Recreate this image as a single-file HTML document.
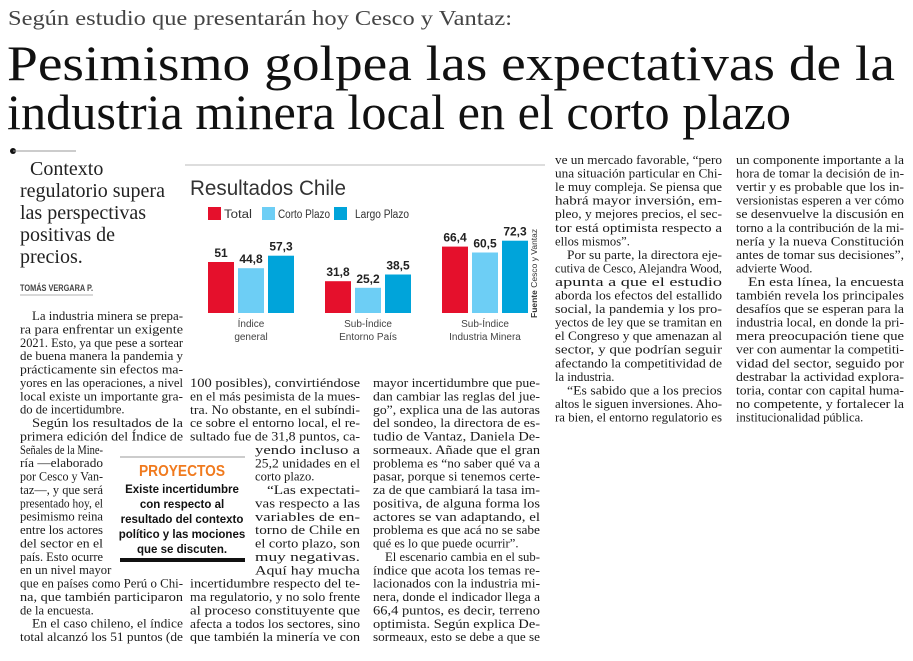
<!DOCTYPE html>
<html><head><meta charset="utf-8">
<style>
html,body{margin:0;padding:0;background:#fff;}
svg{display:block;}
.body{font-family:"Liberation Serif",serif;font-size:12.6px;fill:#1a1a1a;}
.sans{font-family:"Liberation Sans",sans-serif;}
</style></head>
<body>
<svg id="page" width="913" height="661" viewBox="0 0 913 661" xmlns="http://www.w3.org/2000/svg">
<text x="8" y="25" font-family="Liberation Serif,serif" font-size="21" fill="#444" textLength="504" lengthAdjust="spacingAndGlyphs">Según estudio que presentarán hoy Cesco y Vantaz:</text>
<text x="7" y="80" font-family="Liberation Serif,serif" font-size="50" fill="#111" textLength="888" lengthAdjust="spacingAndGlyphs">Pesimismo golpea las expectativas de la</text>
<text x="7" y="129" font-family="Liberation Serif,serif" font-size="50" fill="#111" textLength="784" lengthAdjust="spacingAndGlyphs">industria minera local en el corto plazo</text>
<circle cx="13" cy="151" r="3" fill="#111"/>
<line x1="13" y1="151" x2="76" y2="151" stroke="#999" stroke-width="1"/>
<g font-family="Liberation Serif,serif" font-size="20" fill="#222">
<text x="30" y="175">Contexto</text>
<text x="20" y="197">regulatorio supera</text>
<text x="20" y="219">las perspectivas</text>
<text x="20" y="241">positivas de</text>
<text x="20" y="263">precios.</text>
</g>
<text x="20" y="291" class="sans" font-size="9" font-weight="bold" fill="#444" textLength="73" lengthAdjust="spacingAndGlyphs">TOMÁS VERGARA P.</text>
<line x1="20" y1="295" x2="93" y2="295" stroke="#999" stroke-width="0.8"/>

<g id="cols"></g>

<g>
<line x1="120" y1="457" x2="245" y2="457" stroke="#999" stroke-width="1"/>
<text x="182" y="476" text-anchor="middle" class="sans" font-size="16" font-weight="bold" fill="#f07a1e" textLength="86" lengthAdjust="spacingAndGlyphs">PROYECTOS</text>
<g class="sans" font-size="11.5" font-weight="bold" fill="#111" text-anchor="middle">
<text x="182" y="493">Existe incertidumbre</text>
<text x="182" y="508">con respecto al</text>
<text x="182" y="523">resultado del contexto</text>
<text x="182" y="538">político y las mociones</text>
<text x="182" y="553">que se discuten.</text>
</g>
<rect x="120" y="558" width="125" height="4" fill="#111"/>
</g>

<g id="chart">
<line x1="185" y1="165" x2="545" y2="165" stroke="#bbb" stroke-width="1"/>
<text x="190" y="195" class="sans" font-size="21" fill="#333" textLength="156" lengthAdjust="spacingAndGlyphs">Resultados Chile</text>
<g id="legend"></g>
<g id="bars"></g>
<text transform="translate(537,318) rotate(-90)" class="sans" font-size="8.5" fill="#333"><tspan font-weight="bold">Fuente</tspan> Cesco y Vantaz</text>
</g>
</svg>
<script>
const NS='http://www.w3.org/2000/svg';
// ---- chart data ----
const categories=[['Índice','general'],['Sub-Índice','Entorno País'],['Sub-Índice','Industria Minera']];
const seriesNames=['Total','Corto Plazo','Largo Plazo'];
const totalVals=[51,31.8,66.4];
const cortoVals=[44.8,25.2,60.5];
const largoVals=[57.3,38.5,72.3];
const seriesColors=['#e5102c','#6dcef5','#00a4da'];

const chartBase=313, pxPerUnit=1.0, groupX0=208, groupStep=117, barW=26, barGap=4;
function yScale(v){return chartBase-v*pxPerUnit;}
function xScale(g,s){return groupX0+g*groupStep+s*(barW+barGap);}
const bars=document.getElementById('bars');
const allVals=[totalVals,cortoVals,largoVals];
allVals.forEach((arr,s)=>{
  arr.forEach((v,g)=>{
    const r=document.createElementNS(NS,'rect');
    r.setAttribute('x',xScale(g,s));r.setAttribute('y',yScale(v));
    r.setAttribute('width',barW);r.setAttribute('height',chartBase-yScale(v));
    r.setAttribute('fill',seriesColors[s]);
    
    
    bars.appendChild(r);
    const t=document.createElementNS(NS,'text');
    t.setAttribute('x',xScale(g,s)+barW/2);t.setAttribute('y',yScale(v)-5);
    t.setAttribute('text-anchor','middle');t.setAttribute('class','sans');
    t.setAttribute('font-size','12');t.setAttribute('font-weight','bold');t.setAttribute('fill','#222');
    t.textContent=String(v).replace('.',',');
    
    
    bars.appendChild(t);
  });
});
categories.forEach((c,g)=>{
  c.forEach((ln,i)=>{
    const t=document.createElementNS(NS,'text');
    t.setAttribute('x',xScale(g,1)+barW/2);t.setAttribute('y',327+i*13);
    t.setAttribute('text-anchor','middle');t.setAttribute('class','sans');
    t.setAttribute('font-size','10');t.setAttribute('fill','#444');
    t.textContent=ln;
    
    
    bars.appendChild(t);
  });
});
const legendX=[208,262,334];
const legendTextW=[28,52,54];
const leg=document.getElementById('legend');
seriesNames.forEach((n,s)=>{
  const r=document.createElementNS(NS,'rect');
  r.setAttribute('x',legendX[s]);r.setAttribute('y',207);r.setAttribute('width',13);r.setAttribute('height',13);
  r.setAttribute('fill',seriesColors[s]);
  
  
  leg.appendChild(r);
  const t=document.createElementNS(NS,'text');
  t.setAttribute('x',legendX[s]+(s==2?21:16));t.setAttribute('y',218);t.setAttribute('class','sans');
  t.setAttribute('font-size','11.5');t.setAttribute('fill','#333');t.textContent=n;
  t.setAttribute('textLength',legendTextW[s]);t.setAttribute('lengthAdjust','spacingAndGlyphs');
  
  
  leg.appendChild(t);
});

// ---- article columns: [text, mode, justify, indent] ----
const col1=[
['La industria minera se prepa-',0,1,1],['ra para enfrentar un exigente',0,1,0],['2021. Esto, ya que pese a sortear',0,1,0],
['de buena manera la pandemia y',0,1,0],['prácticamente sin efectos ma-',0,1,0],['yores en las operaciones, a nivel',0,1,0],
['local existe un importante gra-',0,1,0],['do de incertidumbre.',0,0,0],['Según los resultados de la',0,1,1],
['primera edición del Índice de',0,1,0],['Señales de la Mine-',1,1,0],['ría —elaborado',1,1,0],['por Cesco y Van-',1,1,0],
['taz—, y que será',1,1,0],['presentado hoy, el',1,1,0],['pesimismo reina',1,1,0],['entre los actores',1,1,0],
['del sector en el',1,1,0],['país. Esto ocurre',1,1,0],['en un nivel mayor',1,0,0],['que en países como Perú o Chi-',0,1,0],
['na, que también participaron',0,1,0],['de la encuesta.',0,0,0],['En el caso chileno, el índice',0,1,1],['total alcanzó los 51 puntos (de',0,1,0]];
const col2=[
['100 posibles), convirtiéndose',0,1,0],['en el más pesimista de la mues-',0,1,0],['tra. No obstante, en el subíndi-',0,1,0],
['ce sobre el entorno local, el re-',0,1,0],['sultado fue de 31,8 puntos, ca-',0,1,0],['yendo incluso a',2,1,0],['25,2 unidades en el',2,1,0],
['corto plazo.',2,0,0],['“Las expectati-',2,1,1],['vas respecto a las',2,1,0],['variables de en-',2,1,0],['torno de Chile en',2,1,0],
['el corto plazo, son',2,1,0],['muy negativas.',2,1,0],['Aquí hay mucha',2,1,0],['incertidumbre respecto del te-',0,1,0],
['ma regulatorio, y no solo frente',0,1,0],['al proceso constituyente que',0,1,0],['afecta a todos los sectores, sino',0,1,0],['que también la minería ve con',0,1,0]];
const col3=[
['mayor incertidumbre que pue-',0,1,0],['dan cambiar las reglas del jue-',0,1,0],['go”, explica una de las autoras',0,1,0],
['del sondeo, la directora de es-',0,1,0],['tudio de Vantaz, Daniela De-',0,1,0],['sormeaux. Añade que el gran',0,1,0],
['problema es “no saber qué va a',0,1,0],['pasar, porque si tenemos certe-',0,1,0],['za de que cambiará la tasa im-',0,1,0],
['positiva, de alguna forma los',0,1,0],['actores se van adaptando, el',0,1,0],['problema es que acá no se sabe',0,1,0],
['qué es lo que puede ocurrir”.',0,0,0],['El escenario cambia en el sub-',0,1,1],['índice que acota los temas re-',0,1,0],
['lacionados con la industria mi-',0,1,0],['nera, donde el indicador llega a',0,1,0],['66,4 puntos, es decir, terreno',0,1,0],
['optimista. Según explica De-',0,1,0],['sormeaux, esto se debe a que se',0,1,0]];
const col4=[
['ve un mercado favorable, “pero',0,1,0],['una situación particular en Chi-',0,1,0],['le muy compleja. Se piensa que',0,1,0],
['habrá mayor inversión, em-',0,1,0],['pleo, y mejores precios, el sec-',0,1,0],['tor está optimista respecto a',0,1,0],
['ellos mismos”.',0,0,0],['Por su parte, la directora eje-',0,1,1],['cutiva de Cesco, Alejandra Wood,',0,1,0],
['apunta a que el estudio',0,1,0],['aborda los efectos del estallido',0,1,0],['social, la pandemia y los pro-',0,1,0],
['yectos de ley que se tramitan en',0,1,0],['el Congreso y que amenazan al',0,1,0],['sector, y que podrían seguir',0,1,0],
['afectando la competitividad de',0,1,0],['la industria.',0,0,0],['“Es sabido que a los precios',0,1,1],
['altos le siguen inversiones. Aho-',0,1,0],['ra bien, el entorno regulatorio es',0,1,0]];
const col5=[
['un componente importante a la',0,1,0],['hora de tomar la decisión de in-',0,1,0],['vertir y es probable que los in-',0,1,0],
['versionistas esperen a ver cómo',0,1,0],['se desenvuelve la discusión en',0,1,0],['torno a la contribución de la mi-',0,1,0],
['nería y la nueva Constitución',0,1,0],['antes de tomar sus decisiones”,',0,1,0],['advierte Wood.',0,0,0],
['En esta línea, la encuesta',0,1,1],['también revela los principales',0,1,0],['desafíos que se esperan para la',0,1,0],
['industria local, en donde la pri-',0,1,0],['mera preocupación tiene que',0,1,0],['ver con aumentar la competiti-',0,1,0],
['vidad del sector, seguido por',0,1,0],['destrabar la actividad explora-',0,1,0],['toria, contar con capital huma-',0,1,0],
['no competente, y fortalecer la',0,1,0],['institucionalidad pública.',0,0,0]];
const cols=[[col1,20,163,320,13.38,83],[col2,190,170,387,13.38,0],[col3,373,167,387,13.38,0],[col4,555,167,164,13.55,0],[col5,736,168,164,13.55,0]];
const g=document.getElementById('cols');
cols.forEach(([lines,x0,w,y0,lead,nw],ci)=>{
  lines.forEach((L,i)=>{
    const [txt,mode,just,ind]=L;
    let x=x0,width=w;
    if(mode==1){width=nw;}
    if(mode==2){x=255;width=x0+w-255;}
    if(ind){x+=12;width-=12;}
    const t=document.createElementNS(NS,'text');
    t.setAttribute('x',x);t.setAttribute('y',(y0+i*lead).toFixed(1));
    t.setAttribute('class','body');
    if(just){t.setAttribute('textLength',width);t.setAttribute('lengthAdjust','spacingAndGlyphs');}
    t.textContent=txt;
    
    
    g.appendChild(t);
  });
});
</script>
</body></html>
